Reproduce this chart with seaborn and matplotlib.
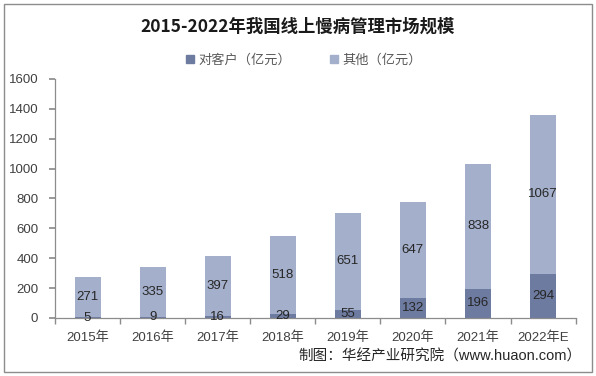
import matplotlib
matplotlib.use("Agg")
import matplotlib.pyplot as plt
import matplotlib.patches as mpatches
import seaborn as sns
import pandas as pd
import numpy as np

years = ["2015年", "2016年", "2017年", "2018年", "2019年", "2020年", "2021年", "2022年E"]
to_customer = [5, 9, 16, 29, 55, 132, 196, 294]
others = [271, 335, 397, 518, 651, 647, 838, 1067]

dark = "#6E7BA1"
light = "#A4AFCB"

sns.set_theme(style="white")
plt.rcParams["font.family"] = ["Liberation Sans", "Noto Sans CJK SC", "DejaVu Sans"]

df = pd.DataFrame({"year": years, "to_customer": to_customer, "others": others})
df["total"] = df["to_customer"] + df["others"]

fig = plt.figure(figsize=(5.96, 3.76), dpi=100)
ax = fig.add_axes([0.0923, 0.1543, 0.8735, 0.6357])

sns.barplot(data=df, x="year", y="total", color=light, width=0.4, saturation=1,
            linewidth=0, ax=ax)
sns.barplot(data=df, x="year", y="to_customer", color=dark, width=0.4, saturation=1,
            linewidth=0, ax=ax)

# segment labels, centred in each piece
for i, (a, b) in enumerate(zip(to_customer, others)):
    ax.text(i, a / 2, str(a), ha="center", va="center", fontsize=9.5, color="#262626")
    ax.text(i, a + b / 2, str(b), ha="center", va="center", fontsize=9.5, color="#262626")

ax.set_xlim(-0.5, len(years) - 0.5)
ax.set_ylim(0, 1600)
ax.set_yticks(range(0, 1601, 200))
ax.set_xlabel("")
ax.set_ylabel("")

for s in ["top", "right"]:
    ax.spines[s].set_visible(False)
for s in ["left", "bottom"]:
    ax.spines[s].set_color("#8C8C8C")
    ax.spines[s].set_linewidth(0.9)

ax.tick_params(axis="y", left=True, length=4, color="#8C8C8C", labelsize=9.5, labelcolor="#404040", pad=8)
ax.tick_params(axis="x", bottom=False, labelsize=9.5, labelcolor="#404040", pad=4)
ax.set_xticks(np.arange(-0.5, len(years)), minor=True)
ax.tick_params(axis="x", which="minor", bottom=True, length=4, color="#8C8C8C")

handles = [mpatches.Patch(color=dark, label="对客户（亿元）"),
           mpatches.Patch(color=light, label="其他（亿元）")]
fig.legend(handles=handles, loc="center", bbox_to_anchor=(0.51, 0.84), ncol=2, frameon=False,
           fontsize=9.5, handlelength=0.6, handleheight=0.6, handletextpad=0.3,
           columnspacing=3.0, labelcolor="#595959")

fig.text(0.5, 0.93, "2015-2022年我国线上慢病管理市场规模", ha="center", va="center",
         fontsize=12.5, fontweight="bold", color="#1A1A1A",
         family=["Noto Sans CJK SC", "DejaVu Sans"])

fig.text(0.975, 0.052, "制图：华经产业研究院（www.huaon.com）", ha="right", va="center",
         fontsize=10.5, color="#262626")

fig.patches.append(mpatches.Rectangle((0.006, 0.01), 0.988, 0.98, transform=fig.transFigure,
                                      fill=False, edgecolor="#8C8C8C", linewidth=1.0))

fig.savefig("out.png", dpi=100)
